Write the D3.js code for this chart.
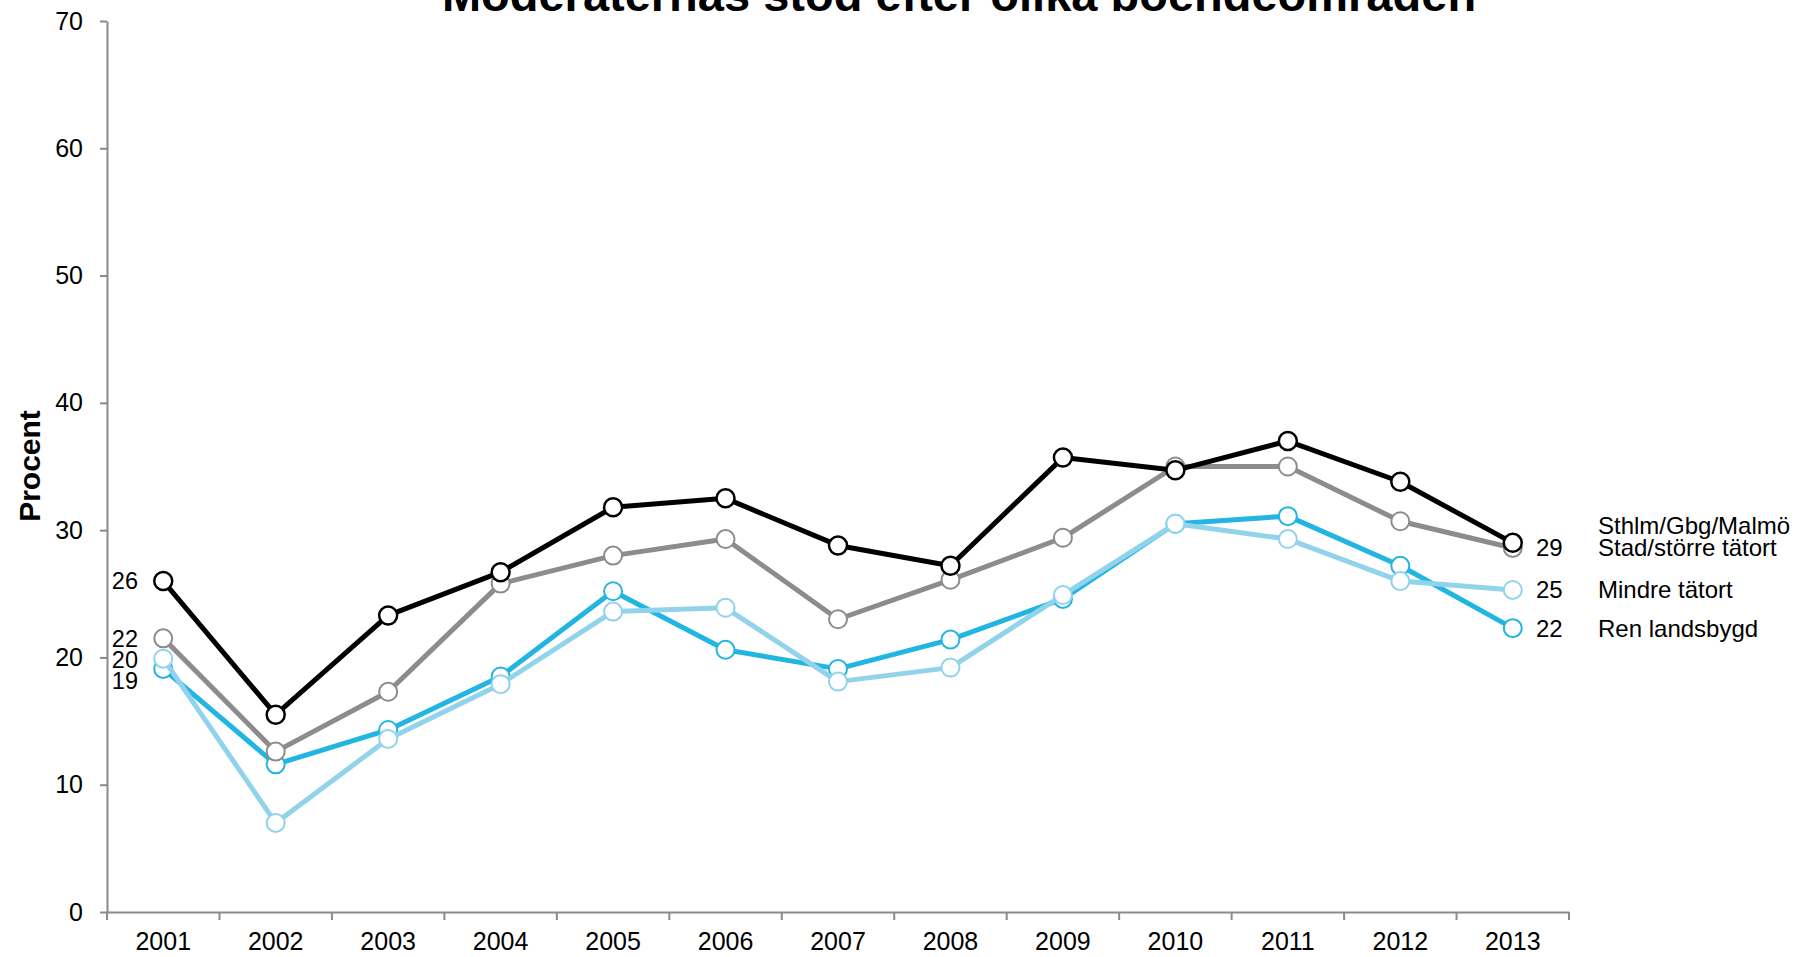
<!DOCTYPE html>
<html>
<head>
<meta charset="utf-8">
<script src="https://cdn.jsdelivr.net/npm/d3@7"></script>
<style>
  body { margin: 0; background: #fff; }
  svg { display: block; font-family: "Liberation Sans", Arial, sans-serif; }
  .axis path, .axis line { stroke: #8a8a8a; stroke-width: 2; }
</style>
</head>
<body>
<svg id="chart" width="1796" height="957"></svg>
<script>
// data
const years = ["2001", "2002", "2003", "2004", "2005", "2006", "2007",
  "2008", "2009", "2010", "2011", "2012", "2013"];
const yTicks = [0, 10, 20, 30, 40, 50, 60, 70];

const seriesNames = ["Sthlm/Gbg/Malmö", "Stad/större tätort", "Mindre tätort", "Ren landsbygd"];
const sthlm = [26.0, 15.5, 23.3, 26.7, 31.8, 32.5, 28.8, 27.2, 35.7, 34.7, 37.0, 33.8, 29.0];
const stad = [21.5, 12.6, 17.3, 25.8, 28.0, 29.3, 23.0, 26.1, 29.4, 35.0, 35.0, 30.7, 28.6];
const mindre = [19.9, 7.0, 13.6, 17.9, 23.6, 23.9, 18.1, 19.2, 24.9, 30.5, 29.3, 26.0, 25.3];
const ren = [19.1, 11.6, 14.3, 18.5, 25.2, 20.6, 19.1, 21.4, 24.6, 30.5, 31.1, 27.2, 22.3];

const colors = ["#000000", "#8c8c8c", "#92d3ec", "#22b5e2"];

const series = [
  { name: seriesNames[0], values: sthlm, color: colors[0] },
  { name: seriesNames[1], values: stad, color: colors[1] },
  { name: seriesNames[2], values: mindre, color: colors[2] },
  { name: seriesNames[3], values: ren, color: colors[3] }
];

const svg = d3.select("#chart");
const plotLeft = 107, plotRight = 1569, plotTop = 21, plotBottom = 912;

const x = d3.scaleBand().domain(years).range([plotLeft, plotRight]).padding(0);
const cx = (i) => x(years[i]) + x.bandwidth() / 2;
const y = d3.scaleLinear().domain([0, 70]).range([plotBottom, plotTop]);

// title (cut at top like the original)
svg.append("text")
  .attr("x", 959)
  .attr("y", 11)
  .attr("text-anchor", "middle")
  .attr("font-size", 47)
  .attr("font-weight", "bold")
  .text("Moderaternas stöd efter olika boendeområden");

// y axis
const yAxis = svg.append("g")
  .attr("class", "axis")
  .attr("transform", `translate(${plotLeft},0)`)
  .call(d3.axisLeft(y).tickValues(yTicks).tickSize(7).tickPadding(17).tickSizeOuter(0));
yAxis.selectAll("text").attr("font-size", 25).attr("fill", "#000")
  .attr("font-family", "Liberation Sans, Arial, sans-serif");

svg.append("text")
  .attr("transform", `translate(40,466) rotate(-90)`)
  .attr("text-anchor", "middle")
  .attr("font-size", 30)
  .attr("font-weight", "bold")
  .text("Procent");

// x axis: labels in band centres, tick marks on band edges
const xAxis = svg.append("g")
  .attr("class", "axis")
  .attr("transform", `translate(0,${plotBottom})`)
  .call(d3.axisBottom(x).tickSize(0).tickPadding(20).tickSizeOuter(0));
xAxis.selectAll("text").attr("font-size", 25).attr("fill", "#000")
  .attr("font-family", "Liberation Sans, Arial, sans-serif");

const edges = years.map((d) => x(d)).concat([x.range()[1]]);
svg.append("g")
  .selectAll("line")
  .data(edges)
  .join("line")
  .attr("x1", (d) => d).attr("x2", (d) => d)
  .attr("y1", plotBottom).attr("y2", plotBottom + 8)
  .attr("stroke", "#8a8a8a")
  .attr("stroke-width", 2);

// lines + markers, bottom series drawn first
const drawOrder = [3, 2, 1, 0];
const line = d3.line().x((d, i) => cx(i)).y((d) => y(d));

drawOrder.forEach((k) => {
  const s = series[k];
  const g = svg.append("g");
  g.append("path")
    .attr("d", line(s.values))
    .attr("fill", "none")
    .attr("stroke", s.color)
    .attr("stroke-width", 5)
    .attr("stroke-linejoin", "round");
  g.selectAll("circle")
    .data(s.values)
    .join("circle")
    .attr("cx", (d, i) => cx(i))
    .attr("cy", (d) => y(d))
    .attr("r", 9)
    .attr("fill", "#fff")
    .attr("stroke", s.color)
    .attr("stroke-width", k === 0 ? 2.5 : 2);
});

// keep labels apart; dir 1 pushes down, -1 pushes up
function spread(items, gap, dir) {
  const sorted = items.slice().sort((a, b) => dir * (a.y - b.y));
  for (let i = 1; i < sorted.length; i++) {
    const prev = sorted[i - 1];
    if (dir * (sorted[i].y - prev.y) < gap) sorted[i].y = prev.y + dir * gap;
  }
  return items;
}

// start values on the left
const startLabels = spread(series.map((s) => ({
  text: Math.round(s.values[0]), y: y(s.values[0])
})), 21, 1);
svg.append("g")
  .selectAll("text")
  .data(startLabels)
  .join("text")
  .attr("x", 138)
  .attr("y", (d) => d.y)
  .attr("dy", "0.35em")
  .attr("text-anchor", "end")
  .attr("font-size", 23.5)
  .text((d) => d.text);

// end values on the right (same rounded value shown once)
const last = years.length - 1;
const endMap = new Map();
series.forEach((s) => {
  const v = Math.round(s.values[last]);
  endMap.set(v, { text: v, y: y(s.values[last]) });
});
svg.append("g")
  .selectAll("text")
  .data([...endMap.values()])
  .join("text")
  .attr("x", 1536)
  .attr("y", (d) => d.y)
  .attr("dy", "0.35em")
  .attr("font-size", 24)
  .text((d) => d.text);

// series names
const nameLabels = spread(series.map((s) => ({
  text: s.name, y: y(s.values[last])
})), 22, -1);
svg.append("g")
  .selectAll("text")
  .data(nameLabels)
  .join("text")
  .attr("x", 1598)
  .attr("y", (d) => d.y)
  .attr("dy", "0.35em")
  .attr("font-size", 24)
  .text((d) => d.text);
</script>
</body>
</html>
